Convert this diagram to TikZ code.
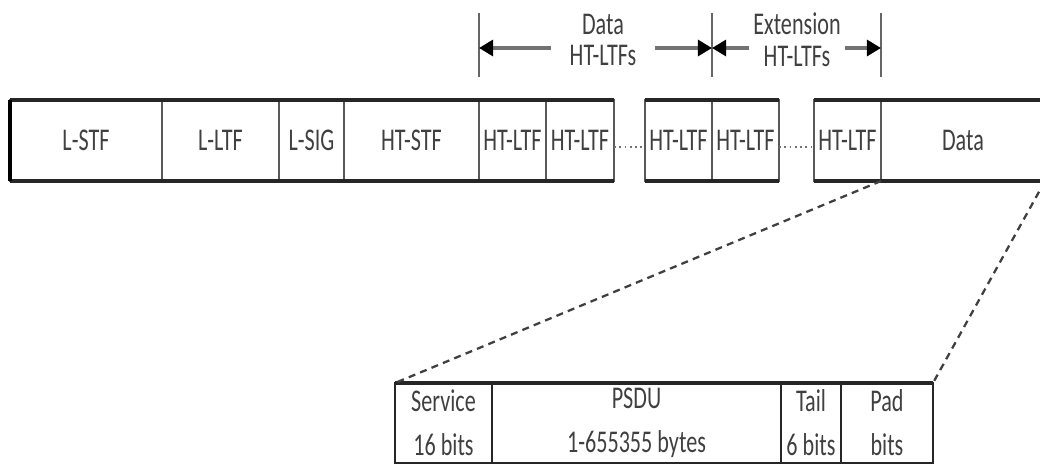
\documentclass[tikz,border=0pt]{standalone}
\usepackage{fontspec}
\newfontfamily\fieldfont{Carlito}[FakeStretch=0.7]
\usetikzlibrary{positioning,arrows.meta}

\begin{document}
\begin{tikzpicture}[>={Triangle[length=8pt,width=9pt,color=black]},
		field/.style = {draw=black!65, line width=1pt, minimum height=1.62cm, inner sep=0pt, outer sep=0pt,
			font=\fieldfont\fontsize{18}{25}\selectfont, text=black!75, align=center},
		sub/.style = {field, draw=black!85, line width=1.2pt, minimum height=1.6cm},
		rowedge/.style = {line width=1.8pt, black!85},
		dimarrow/.style = {->, line width=2.6pt, black!55},
		dimbar/.style = {line width=1.2pt, black!60},
		hint/.style = {font=\fieldfont\fontsize{18}{18}\selectfont, text=black!75, align=center, inner ysep=0pt},
		zoomline/.style = {line width=1.3pt, black!75, dash pattern=on 4pt off 3pt}]
		\useasboundingbox (0,0) rectangle (20.8,9.32);
		% HT mixed format PPDU
		\node[field, minimum width=3.04cm, anchor=west] (lstf) at (0.2,6.51) {L-STF};
		\node[field, minimum width=2.34cm, right=0pt of lstf] (lltf) {L-LTF};
		\node[field, minimum width=1.30cm, right=0pt of lltf] (lsig) {L-SIG};
		\node[field, minimum width=2.70cm, right=0pt of lsig] (htstf) {HT-STF};
		\node[field, minimum width=1.34cm, right=0pt of htstf] (ltf1) {HT-LTF};
		\node[field, minimum width=1.36cm, right=0pt of ltf1] (ltf2) {HT-LTF};
		\node[field, minimum width=1.34cm, right=0.62cm of ltf2] (ltf3) {HT-LTF};
		\node[field, minimum width=1.34cm, right=0pt of ltf3] (ltf4) {HT-LTF};
		\node[field, minimum width=1.34cm, right=0.70cm of ltf4] (ltf5) {HT-LTF};
		\node[field, minimum width=3.28cm, right=0pt of ltf5] (data) {Data};
		\draw[rowedge] (lstf.north west) -- (ltf2.north east) (lstf.south west) -- (ltf2.south east);
		\draw[rowedge] (ltf3.north west) -- (ltf4.north east) (ltf3.south west) -- (ltf4.south east);
		\draw[rowedge] (ltf5.north west) -- (data.north east) (ltf5.south west) -- (data.south east);
		\draw[rowedge, black] (lstf.north west) -- (lstf.south west);
		\draw[black!55, line width=1pt, dotted] ([yshift=-0.13cm]ltf2.east) -- ([yshift=-0.13cm]ltf3.west);
		\draw[black!55, line width=1pt, dotted] ([yshift=-0.13cm]ltf4.east) -- ([yshift=-0.13cm]ltf5.west);
		% HT-LTF brackets
		\foreach \f/\a/\n in {ltf1/north west/1, ltf4/north west/2, ltf5/north east/3}
			\draw[dimbar] ([yshift=0.46cm]\f.\a) -- ([yshift=1.74cm]\f.\a) coordinate[pos=0.453] (tip\n);
		\node[hint, inner xsep=0.36cm] (datalbl) at (12.06,8.52) {Data\\HT-LTFs};
		\node[hint, inner xsep=2pt] (extlbl) at (15.94,8.52) {Extension\\HT-LTFs};
		\draw[dimarrow] (datalbl.west |- tip1) -- (tip1);
		\draw[dimarrow] (datalbl.east |- tip1) -- (tip2);
		\draw[dimarrow] (extlbl.west |- tip2) -- (tip2);
		\draw[dimarrow] (extlbl.east |- tip2) -- (tip3);
		% Data field
		\node[sub, minimum width=1.94cm, anchor=west] (service) at (7.9,0.86) {Service\\16 bits};
		\node[sub, minimum width=5.78cm, right=0pt of service] (psdu) {PSDU\\1-655355 bytes};
		\node[sub, minimum width=1.20cm, right=0pt of psdu] (tail) {Tail\\6 bits};
		\node[sub, minimum width=1.84cm, right=0pt of tail] (pad) {Pad\\bits};
		\draw[rowedge] (service.north west) -- (pad.north east);
		\draw[zoomline] (ltf5.south east) -- (service.north west);
		\draw[zoomline] (data.south east) -- (pad.north east);
\end{tikzpicture}
\end{document}
